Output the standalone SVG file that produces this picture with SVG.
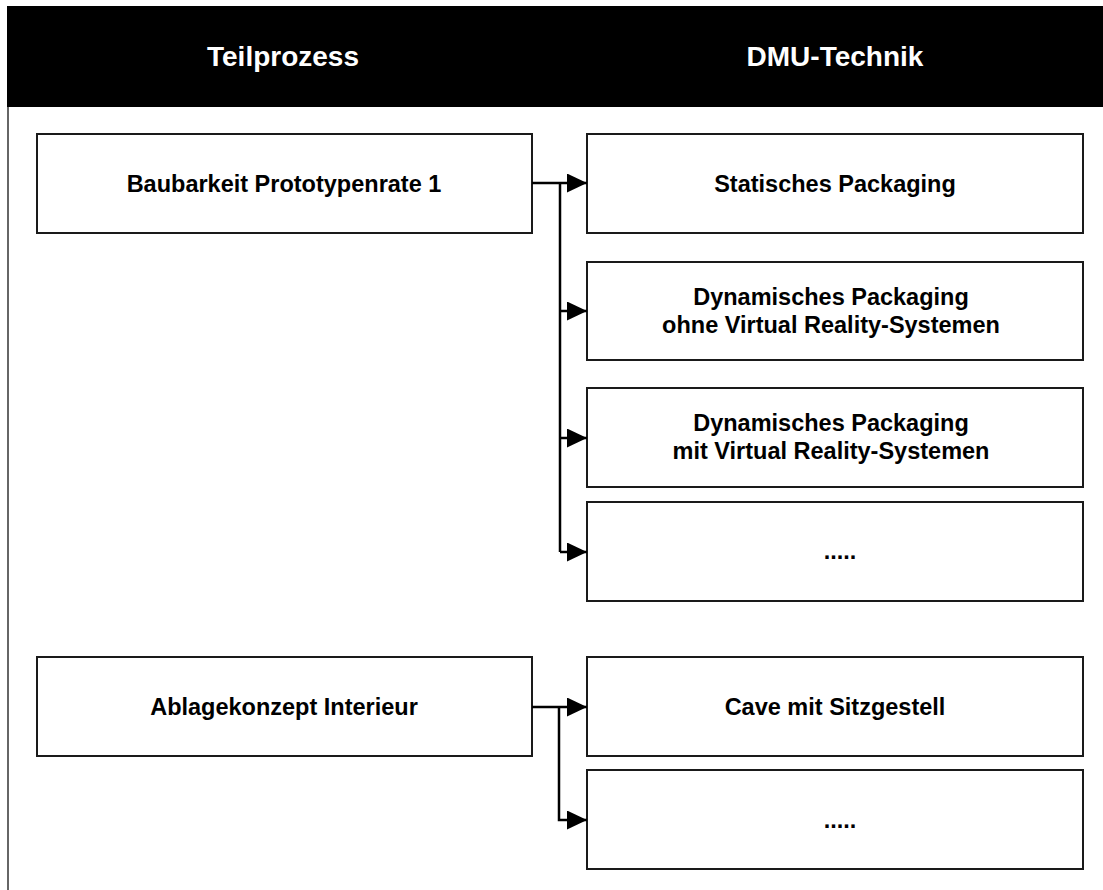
<svg xmlns="http://www.w3.org/2000/svg" width="1103" height="890" viewBox="0 0 1103 890">
  <style>
    .box { fill: #ffffff; stroke: #1a1a1a; stroke-width: 2; }
    .lbl { font-family: "Liberation Sans", Arial, sans-serif; font-weight: bold; font-size: 23.5px; fill: #000000; text-anchor: middle; }
    .head { font-family: "Liberation Sans", Arial, sans-serif; font-weight: bold; font-size: 28px; fill: #ffffff; text-anchor: middle; }
    .wire { fill: none; stroke: #000000; stroke-width: 2.5; }
  </style>
  <defs>
    <marker id="arrow" markerUnits="userSpaceOnUse" markerWidth="20" markerHeight="19" refX="20" refY="9.5" orient="auto">
      <path d="M0,0 L20,9.5 L0,19 Z" fill="#000000"/>
    </marker>
  </defs>

  <rect x="0" y="0" width="1103" height="890" fill="#ffffff"/>

  <!-- outer frame and column header -->
  <g id="frame">
    <line x1="8" y1="6" x2="8" y2="890" stroke="#333333" stroke-width="1.5"/>
    <rect x="7" y="6" width="1096" height="101" fill="#000000"/>
    <text class="head" x="283" y="66">Teilprozess</text>
    <text class="head" x="835" y="66">DMU-Technik</text>
  </g>

  <!-- process steps -->
  <g id="baubarkeit">
    <rect class="box" x="37" y="134" width="495" height="99"/>
    <text class="lbl" x="284" y="192">Baubarkeit Prototypenrate 1</text>
  </g>
  <g id="ablagekonzept">
    <rect class="box" x="37" y="657" width="495" height="99"/>
    <text class="lbl" x="284" y="715">Ablagekonzept Interieur</text>
  </g>

  <!-- DMU techniques -->
  <g id="statisch">
    <rect class="box" x="587" y="134" width="496" height="99"/>
    <text class="lbl" x="835" y="192">Statisches Packaging</text>
  </g>
  <g id="dynamisch-ohne-vr">
    <rect class="box" x="587" y="262" width="496" height="98"/>
    <text class="lbl" x="831" y="305">Dynamisches Packaging</text>
    <text class="lbl" x="831" y="333">ohne Virtual Reality-Systemen</text>
  </g>
  <g id="dynamisch-mit-vr">
    <rect class="box" x="587" y="388" width="496" height="99"/>
    <text class="lbl" x="831" y="431">Dynamisches Packaging</text>
    <text class="lbl" x="831" y="459">mit Virtual Reality-Systemen</text>
  </g>
  <g id="weitere-1">
    <rect class="box" x="587" y="502" width="496" height="99"/>
    <text class="lbl" x="840" y="559">.....</text>
  </g>
  <g id="cave">
    <rect class="box" x="587" y="657" width="496" height="99"/>
    <text class="lbl" x="835" y="715">Cave mit Sitzgestell</text>
  </g>
  <g id="weitere-2">
    <rect class="box" x="587" y="770" width="496" height="99"/>
    <text class="lbl" x="840" y="828">.....</text>
  </g>

  <!-- connectors -->
  <g id="connectors">
    <path class="wire" d="M532,183 H587" marker-end="url(#arrow)"/>
    <path class="wire" d="M560,183 V552"/>
    <path class="wire" d="M560,311 H587" marker-end="url(#arrow)"/>
    <path class="wire" d="M560,438 H587" marker-end="url(#arrow)"/>
    <path class="wire" d="M560,552 H587" marker-end="url(#arrow)"/>
    <path class="wire" d="M532,707 H587" marker-end="url(#arrow)"/>
    <path class="wire" d="M559,707 V820 H587" marker-end="url(#arrow)"/>
  </g>
</svg>
